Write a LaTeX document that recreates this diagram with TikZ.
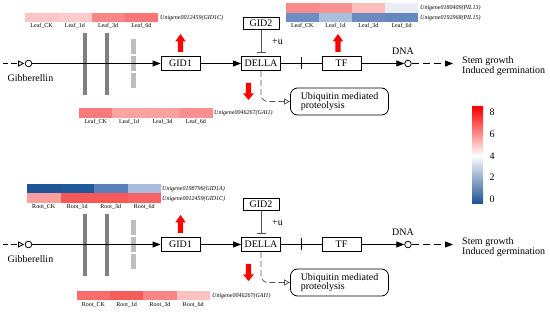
\documentclass[tikz,border=0pt]{standalone}
\usepackage{fontspec}
\setmainfont{Liberation Serif}
\usetikzlibrary{arrows.meta}
% heatmap colours
\definecolor{lgA}{HTML}{FCC6C6}\definecolor{lgB}{HTML}{FDCBCB}\definecolor{lgC}{HTML}{F98686}\definecolor{lgD}{HTML}{F87676}
\definecolor{pA}{HTML}{F88C8C}\definecolor{pB}{HTML}{F89292}\definecolor{pC}{HTML}{FCBDBD}\definecolor{pD}{HTML}{E9ECF3}
\definecolor{qA}{HTML}{6C8EC2}\definecolor{qB}{HTML}{AABFDD}\definecolor{qC}{HTML}{6B8BC0}\definecolor{qD}{HTML}{6489BF}
\definecolor{laA}{HTML}{F77A7A}\definecolor{laB}{HTML}{F9A3A3}\definecolor{laC}{HTML}{F9A0A0}\definecolor{laD}{HTML}{F89090}
\definecolor{raA}{HTML}{1E5396}\definecolor{raB}{HTML}{21589A}\definecolor{raC}{HTML}{5A80B9}\definecolor{raD}{HTML}{A9BCDC}
\definecolor{rcA}{HTML}{FA9E9E}\definecolor{rcB}{HTML}{F75858}\definecolor{rcC}{HTML}{F75858}\definecolor{rcD}{HTML}{F86464}
\definecolor{rgA}{HTML}{F86C6C}\definecolor{rgB}{HTML}{F75C5C}\definecolor{rgC}{HTML}{F98484}\definecolor{rgD}{HTML}{FCC2C2}
\definecolor{cbblue}{HTML}{1C4F92}
\definecolor{arrred}{HTML}{FF0000}
\definecolor{barA}{HTML}{808080}
\definecolor{barB}{HTML}{BDBDBD}
\definecolor{lnc}{HTML}{555555}

\tikzset{
  ln/.style={line width=0.8pt},
  arr/.style={-{Triangle[length=8pt,width=6pt]}},
  openarr/.style={-{Triangle[open,length=6pt,width=6pt]}},
  box/.style={draw, line width=0.8pt, minimum width=39pt, minimum height=14pt, inner sep=0pt, font=\fontsize{10}{10}\selectfont},
  ring/.style={draw, circle, line width=0.8pt, minimum size=6.6pt, inner sep=0pt},
  lab/.style={inner sep=0pt, font=\fontsize{10}{10}\selectfont},
  collab/.style={inner sep=0pt, font=\fontsize{6}{6}\selectfont},
  genelab/.style={inner sep=0pt, anchor=base west, font=\fontsize{6}{6}\selectfont\itshape},
  ubox/.style={draw, line width=0.8pt, rounded corners=7pt, minimum width=98pt, minimum height=27pt, inner sep=0pt, align=left, font=\fontsize{10}{9.5}\selectfont},
  graybar/.style={draw=barA, line width=3.3pt},
  dashbar/.style={draw=barB, line width=5pt, dash pattern=on 14.5pt off 2.5pt},
  redup/.pic={\fill[arrred] (-2.7,0) -- (-2.7,-10.5) -- (-5.3,-10.5) -- (0,-18) -- (5.3,-10.5) -- (2.7,-10.5) -- (2.7,0) -- cycle;},
  reddown/.pic={\fill[arrred] (-2.7,0) -- (-2.7,10.5) -- (-5.3,10.5) -- (0,17) -- (5.3,10.5) -- (2.7,10.5) -- (2.7,0) -- cycle;}
}

% x0, ytop, w, h, four colours
\newcommand\hmcells[8]{%
  \fill[#5] (#1,#2) rectangle ++(#3,#4);
  \fill[#6] ({#1+#3},#2) rectangle ++(#3,#4);
  \fill[#7] ({#1+2*#3},#2) rectangle ++(#3,#4);
  \fill[#8] ({#1+3*#3},#2) rectangle ++(#3,#4);}
% x0, w, ybase, name prefix, organ
\newcommand\hmcols[5]{%
  \foreach \s [count=\i from 0] in {CK,1d,3d,6d}
    \node[collab, anchor=base] (#4\i) at ({#1+(\i+0.5)*#2},#3) {#5\_\s};}

\newcommand\pathway[2]{%
\begin{scope}[shift={(0,#2)}, name prefix=#1-]
  \draw[graybar] (85,33) -- (85,95);
  \draw[graybar] (107,33) -- (107,95);
  \draw[dashbar] (133,39.3) -- (133,88);
  \coordinate (start) at (2.7,63.5);
  \node[ring] (gib) at (28.5,63.5) {};
  \node[lab, anchor=base] (gibtxt) at (30.5,81.5) {Gibberellin};
  \node[box] (gid1) at (180.5,63.5) {GID1};
  \node[box] (della) at (261,63.5) {DELLA};
  \node[box, minimum width=36pt, minimum height=12.5pt] (gid2) at (261,23.2) {GID2};
  \node[box] (tf) at (341.5,63.5) {TF};
  \node[ring] (dna) at (408,63.5) {};
  \node[lab, anchor=base] (dnatxt) at (403,55) {DNA};
  \node[lab, anchor=base] (plusu) at (277.5,44.5) {+u};
  \node[lab, anchor=west, align=left, font=\fontsize{10}{9}\selectfont] (effect) at (462,66.5) {Stem growth\\Induced germination};
  \node[ubox] (ubi) at (339.5,101.5) {Ubiquitin mediated\\proteolysis};
  \coordinate (tick) at (301,63.5);
  \draw[ln, dash pattern=on 5.5pt off 3pt, openarr, shorten >=0.6pt] (start) -- (gib.west);
  \draw[ln, arr] (gib.east) -- (gid1.west);
  \draw[ln, arr] (gid1.east) -- (della.west);
  \draw[ln] (della.east) -- (tf.west);
  \draw[ln] (tick) +(0,-6) -- +(0,6);
  \draw[ln, arr] (tf.east) -- (dna.west);
  \draw[ln, dash pattern=on 7pt off 4pt, arr, shorten >=9pt] (dna.east) -- (dna.east -| effect.west);
  \draw[ln, draw=lnc, -{Bar[width=9pt]}, shorten >=3.5pt] (gid2.south) -- (della.north);
  \draw[ln, draw=lnc, dash pattern=on 6pt off 3pt, rounded corners=7pt, openarr] (della.south) |- (ubi.west);
  \pic at (180.5,52) {redup};
  \pic at (248.5,83) {reddown};
\end{scope}}

\begin{document}
\begin{tikzpicture}[x=1pt,y=-1pt]
\useasboundingbox (0,0) rectangle (550,312);

% ---------- top panel (Leaf) ----------
\pathway{top}{0}
\pic at (338,52) {redup};
% GID1C leaf heatmap
\hmcells{25}{13}{33.25}{9.5}{lgA}{lgB}{lgC}{lgD}
\node[genelab] (g1) at (160,19.7) {Unigene0012459(GID1C)};
\hmcols{25}{33.25}{27.7}{tl}{Leaf}
% PIL heatmap
\hmcells{285.7}{3}{33.1}{9.6}{pA}{pB}{pC}{pD}
\hmcells{285.7}{12.6}{33.1}{9.6}{qA}{qB}{qC}{qD}
\node[genelab] (g2) at (420,9.8) {Unigene0180409(PIL13)};
\node[genelab] (g3) at (420,19.4) {Unigene0192968(PIL15)};
\hmcols{285.7}{33.1}{27.7}{tp}{Leaf}
% GAI1 leaf heatmap
\hmcells{79}{108}{33.4}{10}{laA}{laB}{laC}{laD}
\node[genelab] (g4) at (214,115) {Unigene0046267(GAI1)};
\hmcols{79}{33.4}{123.7}{tg}{Leaf}

% ---------- bottom panel (Root) ----------
\pathway{bot}{181}
\hmcells{27}{184}{33.5}{9.4}{raA}{raB}{raC}{raD}
\hmcells{27}{193.4}{33.5}{9.4}{rcA}{rcB}{rcC}{rcD}
\node[genelab] (g5) at (162,190.7) {Unigene0198796(GID1A)};
\node[genelab] (g6) at (162,200.1) {Unigene0012459(GID1C)};
\hmcols{27}{33.5}{208.5}{bl}{Root}
\hmcells{76.7}{291}{33.3}{9.5}{rgA}{rgB}{rgC}{rgD}
\node[genelab] (g7) at (212,297.7) {Unigene0046267(GAI1)};
\hmcols{76.7}{33.3}{306.5}{bg}{Root}

% ---------- colour bar ----------
\shade[top color=arrred, bottom color=white] (472,107) rectangle (483,155.8);
\shade[top color=white, bottom color=cbblue] (472,155.5) rectangle (483,204);
\node[lab, anchor=base] (cb8) at (492,116) {8};
\node[lab, anchor=base] (cb6) at (492,137.5) {6};
\node[lab, anchor=base] (cb4) at (492,159.3) {4};
\node[lab, anchor=base] (cb2) at (492,181) {2};
\node[lab, anchor=base] (cb0) at (492,202.7) {0};
\end{tikzpicture}
\end{document}
